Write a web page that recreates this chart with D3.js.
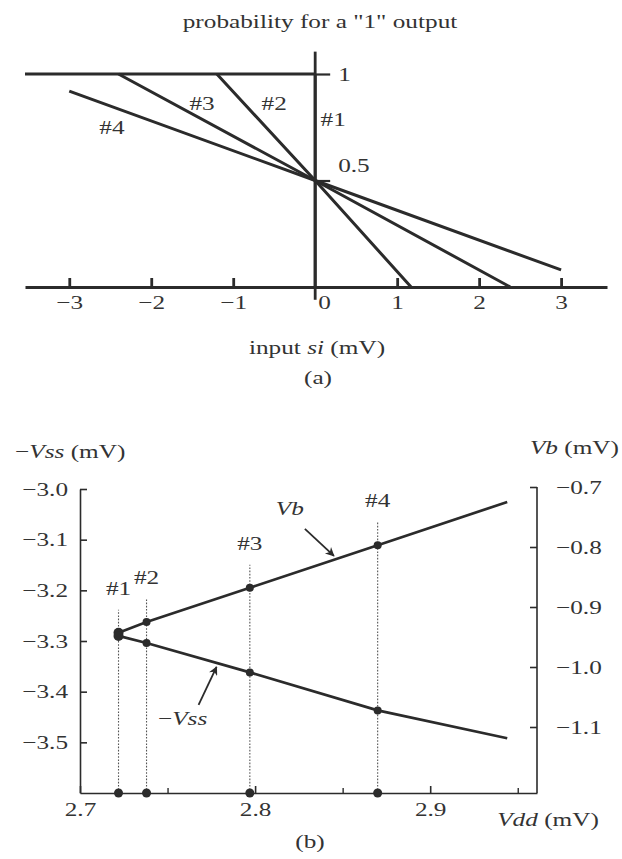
<!DOCTYPE html>
<html>
<head>
<meta charset="utf-8">
<script src="https://cdn.jsdelivr.net/npm/d3@7"></script>
<style>
  body { margin: 0; background: #fff; }
  svg { display: block; }
</style>
</head>
<body>
<script>
// ---- data (a): probability for a "1" output vs input si (mV) ----
var curveNames = ["#1", "#2", "#3", "#4"];
var curveSi    = [[0, 0], [-1.2, 0, 1.17], [-2.4, 0, 2.38], [-3, 0, 3]];
var curveProb  = [[1, 0], [1, 0.5, 0],     [1, 0.5, 0],     [0.92, 0.5, 0.08]];
var siTicks    = [-3, -2, -1, 0, 1, 2, 3];
var probTicks  = [0.5, 1];

// ---- data (b): bias settings vs Vdd (mV) ----
var settingNames = ["#1", "#2", "#3", "#4"];
var vddValues = [2.722, 2.738, 2.797, 2.870, 2.944];   // last one = end of the lines
var vbValues  = [-0.943, -0.925, -0.868, -0.797, -0.725];
var vssValues = [-3.290, -3.304, -3.362, -3.437, -3.492];
var vddTicks  = [2.7, 2.8, 2.9];
var vddMinor  = [2.75, 2.85, 2.95];
var vssTicks  = [-3.0, -3.1, -3.2, -3.3, -3.4, -3.5];
var vbTicks   = [-0.7, -0.8, -0.9, -1.0, -1.1];

var W = 622, H = 859;
var INK = "#2b2b2b", TEXT = "#333";
var FONT = "'Liberation Serif', 'Times New Roman', serif";
var FS = 19, K = 1.33;   // scanned type is wide, so stretch horizontally

var svg = d3.select("body").append("svg")
	.attr("width", W).attr("height", H)
	.attr("font-family", FONT).attr("font-size", FS);

// text with optional italic parts, stretched by K
function label(x, y, parts, anchor) {
	var t = svg.append("text")
		.attr("transform", "translate(" + x + "," + y + ") scale(" + K + ",1)")
		.attr("text-anchor", anchor || "middle")
		.attr("fill", TEXT);
	parts.forEach(function(p) {
		t.append("tspan").attr("font-style", p[1] ? "italic" : "normal").text(p[0]);
	});
	return t;
}

function styleAxis(g, sw) {
	g.attr("font-size", FS).attr("font-family", FONT);
	g.selectAll("line, path").attr("stroke", INK).attr("stroke-width", sw);
	g.selectAll(".tick text").each(function() {
		var t = d3.select(this);
		var xx = +t.attr("x") || 0;
		t.attr("x", xx / K).attr("transform", "scale(" + K + ",1)").attr("fill", TEXT);
	});
}

// ================= panel (a) =================
var x = d3.scaleLinear().domain([-3.54, 3.56]).range([25, 607]);
var y = d3.scaleLinear().domain([0, 1]).range([287, 74]);

label(320, 28, [["probability for a \"1\" output", false]]);

// x axis (ticks point up)
var gx = svg.append("g")
	.attr("transform", "translate(0," + y(0) + ")")
	.call(d3.axisBottom(x).tickValues(siTicks).tickSize(-9).tickSizeOuter(0)
		.tickPadding(9).tickFormat(d3.format("d")));
styleAxis(gx, 2.8);
gx.selectAll(".tick").filter(function(d) { return d === 0; })
	.each(function() {
		d3.select(this).select("line").remove();
		d3.select(this).select("text").attr("x", 9 / K);
	});

// vertical axis through si = 0
svg.append("line")
	.attr("x1", x(0)).attr("x2", x(0))
	.attr("y1", y(1.105)).attr("y2", y(-0.06))
	.attr("stroke", INK).attr("stroke-width", 2.8);

var gy = svg.append("g")
	.attr("transform", "translate(" + x(0) + ",0)")
	.call(d3.axisRight(y).tickValues(probTicks).tickSize(15).tickPadding(8)
		.tickFormat(function(d) { return d === 1 ? "1" : "0.5"; }));
gy.select(".domain").remove();
styleAxis(gy, 2.2);
gy.selectAll(".tick").filter(function(d) { return d === 0.5; })
	.select("text").attr("dy", "-0.45em");

// saturation line at probability 1
var line = d3.line().x(function(d) { return x(d[0]); }).y(function(d) { return y(d[1]); });
svg.append("path")
	.attr("d", line([[x.domain()[0], 1], [0, 1]]))
	.attr("fill", "none").attr("stroke", INK).attr("stroke-width", 2.8);

curveSi.forEach(function(xs, i) {
	var pts = xs.map(function(v, j) { return [v, curveProb[i][j]]; });
	svg.append("path")
		.attr("d", line(pts))
		.attr("fill", "none").attr("stroke", INK)
		.attr("stroke-width", 3).attr("stroke-linejoin", "round");
});

// curve labels (anchored in data units)
var curveLabelAt = [[0.22, 0.755], [-0.5, 0.83], [-1.38, 0.83], [-2.48, 0.72]];
curveNames.forEach(function(n, i) {
	label(x(curveLabelAt[i][0]), y(curveLabelAt[i][1]), [[n, false]]);
});

label(317, 354, [["input ", false], ["si", true], [" (mV)", false]]);
label(318, 384, [["(a)", false]]);

// ================= panel (b) =================
var xB = d3.scaleLinear().domain([2.7, 2.961]).range([80, 537]);
var yL = d3.scaleLinear().domain([-3.6, -3.0]).range([793, 489]);
var yR = d3.scaleLinear().domain([-1.21, -0.7]).range([793, 487]);

var gL = svg.append("g").attr("transform", "translate(" + xB(2.7) + ",0)")
	.call(d3.axisLeft(yL).tickValues(vssTicks).tickSize(-7).tickSizeOuter(0)
		.tickPadding(12).tickFormat(d3.format(".1f")));
styleAxis(gL, 1.6);

var gR = svg.append("g").attr("transform", "translate(" + xB.range()[1] + ",0)")
	.call(d3.axisRight(yR).tickValues(vbTicks).tickSize(-7).tickSizeOuter(0)
		.tickPadding(19).tickFormat(d3.format(".1f")));
styleAxis(gR, 1.6);
gR.select(".domain").attr("d", "M0," + yR(-0.7) + "V" + yR.range()[0]);

var gB = svg.append("g").attr("transform", "translate(0," + yL(-3.6) + ")")
	.call(d3.axisBottom(xB).tickValues(vddTicks).tickSize(-7).tickSizeOuter(0)
		.tickPadding(10).tickFormat(d3.format(".1f")));
styleAxis(gB, 1.6);
var gBm = svg.append("g").attr("transform", "translate(0," + yL(-3.6) + ")")
	.call(d3.axisBottom(xB).tickValues(vddMinor).tickSize(-5).tickFormat(""));
gBm.select(".domain").remove();
styleAxis(gBm, 1.4);

// axis titles
label(15, 458, [["\u2212", false], ["Vss", true], [" (mV)", false]], "start");
label(619, 454, [["Vb", true], [" (mV)", false]], "end");
label(548, 826, [["Vdd", true], [" (mV)", false]]);
label(310, 848, [["(b)", false]]);

// dotted drop lines + dots on the Vdd axis
settingNames.forEach(function(n, i) {
	var cx = xB(vddValues[i]);
	var top = yR(vbValues[i]) - 23;
	svg.append("line")
		.attr("x1", cx).attr("x2", cx).attr("y1", yL(-3.6)).attr("y2", top)
		.attr("stroke", "#555").attr("stroke-width", 1.1).attr("stroke-dasharray", "1.6,1.6");
	svg.append("circle").attr("cx", cx).attr("cy", yL(-3.6)).attr("r", 4.5).attr("fill", INK);
	label(cx, top - 15, [[n, false]]);
});

// the two bias lines
var lineVb = d3.line().x(function(d, i) { return xB(vddValues[i]); }).y(function(d) { return yR(d); });
var lineVss = d3.line().x(function(d, i) { return xB(vddValues[i]); }).y(function(d) { return yL(d); });
svg.append("path").attr("d", lineVb(vbValues))
	.attr("fill", "none").attr("stroke", INK).attr("stroke-width", 2.7);
svg.append("path").attr("d", lineVss(vssValues))
	.attr("fill", "none").attr("stroke", INK).attr("stroke-width", 2.7);

settingNames.forEach(function(n, i) {
	var cx = xB(vddValues[i]);
	svg.append("circle").attr("cx", cx).attr("cy", yR(vbValues[i])).attr("r", i === 0 ? 5 : 4).attr("fill", INK);
	svg.append("circle").attr("cx", cx).attr("cy", yL(vssValues[i])).attr("r", i === 0 ? 5 : 4).attr("fill", INK);
});

// arrows pointing at the lines
svg.append("defs").append("marker")
	.attr("id", "arrow").attr("viewBox", "0 0 10 10")
	.attr("refX", 9).attr("refY", 5)
	.attr("markerWidth", 11).attr("markerHeight", 9)
	.attr("markerUnits", "userSpaceOnUse").attr("orient", "auto")
	.append("path").attr("d", "M0,0 L10,5 L0,10 L3,5 z").attr("fill", INK);

var vbAt = d3.scaleLinear().domain(vddValues).range(vbValues);
var vssAt = d3.scaleLinear().domain(vddValues).range(vssValues);

var tipVb = [xB(2.845), yR(vbAt(2.845)) - 4];
var tailVb = [tipVb[0] - 29, tipVb[1] - 27];
svg.append("line")
	.attr("x1", tailVb[0]).attr("y1", tailVb[1]).attr("x2", tipVb[0]).attr("y2", tipVb[1])
	.attr("stroke", INK).attr("stroke-width", 1.8).attr("marker-end", "url(#arrow)");
label(tailVb[0] - 15, tailVb[1] - 14, [["Vb", true]]);

var tipVss = [xB(2.778), yL(vssAt(2.778)) + 4];
var tailVss = [tipVss[0] - 18, tipVss[1] + 38];
svg.append("line")
	.attr("x1", tailVss[0]).attr("y1", tailVss[1]).attr("x2", tipVss[0]).attr("y2", tipVss[1])
	.attr("stroke", INK).attr("stroke-width", 1.8).attr("marker-end", "url(#arrow)");
label(tailVss[0] - 16, tailVss[1] + 20, [["\u2212", false], ["Vss", true]]);
</script>
</body>
</html>
